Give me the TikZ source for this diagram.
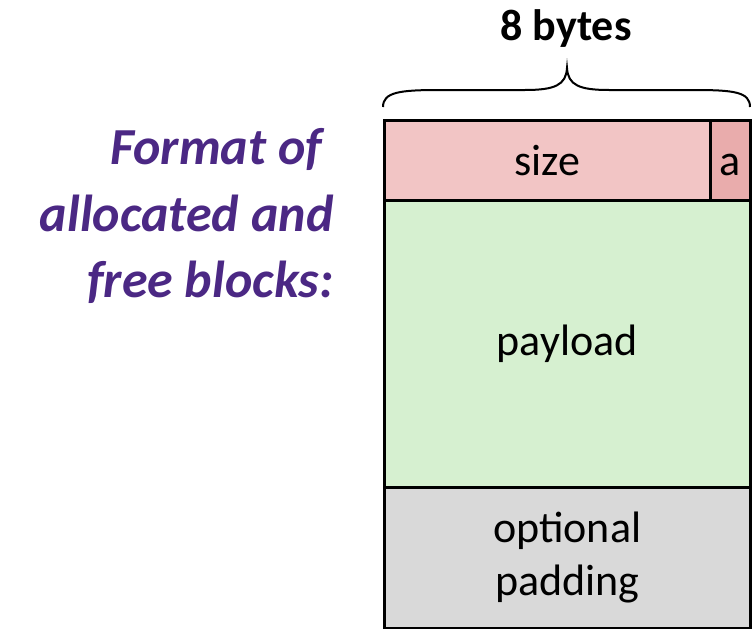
\documentclass[tikz,border=0pt]{standalone}
\usepackage{fontspec}
\setmainfont{Carlito}

\definecolor{sizepink}{RGB}{242,197,197}
\definecolor{bitpink}{RGB}{233,172,172}
\definecolor{loadgreen}{RGB}{214,240,208}
\definecolor{padgrey}{RGB}{217,217,217}
\definecolor{titlepurple}{RGB}{75,40,132}

\begin{document}
\begin{tikzpicture}[x=1pt,y=-1pt,line width=2.5pt]
    \begin{scope}[every node/.style={font=\fontsize{44}{53}\selectfont},
        field/.style={draw=black, rectangle, inner sep=0pt, anchor=north west, align=center}]

\useasboundingbox (0,0) rectangle (756,629);

% header word and brace
\node (width_lbl)  [anchor=base] at (566,40) {\bfseries 8 bytes};
\draw [line width=2pt] (383,107) .. controls (383,92) and (400,90) .. (440,90) -- (525,90)
    .. controls (555,90) and (566,85) .. (567,68)
    .. controls (568,85) and (579,90) .. (609,90) -- (694,90)
    .. controls (734,90) and (750,92) .. (750,107);

% block fields
\node (size_fld)   [field, fill=sizepink,  minimum width=326pt, minimum height=80pt]  at (383,119) {size};
\node (bit_fld)    [field, fill=bitpink,   minimum width=40pt,  minimum height=80pt]  at (709,119) {\vphantom{size}a};
\node (load_fld)   [field, fill=loadgreen, minimum width=366pt, minimum height=287pt] at (383,199) {payload};
\node (pad_fld)    [field, fill=padgrey,   minimum width=366pt, minimum height=141pt] at (383,486) {optional\\padding};

% caption
\node (caption)    [anchor=east, align=right, text=titlepurple,
                    font=\fontsize{52}{66.5}\selectfont\bfseries\itshape] at (338,216)
    {Format of\hspace*{.22em}\\allocated and\hspace*{.22em}\\free blocks:};

    \end{scope}
\end{tikzpicture}
\end{document}
